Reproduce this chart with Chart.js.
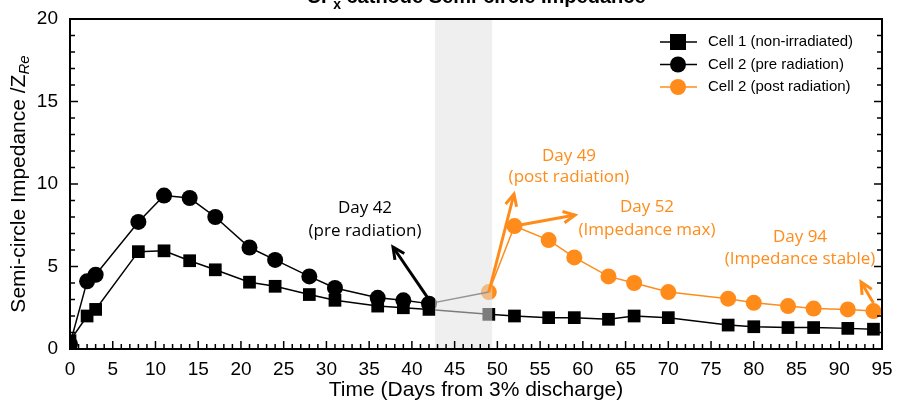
<!DOCTYPE html>
<html><head><meta charset="utf-8">
<script src="https://cdn.jsdelivr.net/npm/chart.js@4"></script>
<style>body{margin:0;background:#fff}#w{width:903px;height:403px}</style>
</head><body><div id="w"><canvas id="c"></canvas></div>
<script>
const cell1Days=[0,2,3,8,11,14,17,21,24,28,31,36,39,42,49,52,56,59,63,66,70,77,80,84,87,91,94];
const cell1Vals=[0.5,2.0,2.4,5.9,5.95,5.35,4.8,4.05,3.8,3.3,2.95,2.6,2.5,2.4,2.1,2.0,1.9,1.9,1.8,2.0,1.9,1.45,1.35,1.3,1.3,1.25,1.2];
const preDays=[0,2,3,8,11,14,17,21,24,28,31,36,39,42];
const preVals=[0.3,4.1,4.5,7.7,9.3,9.15,8.0,6.15,5.4,4.4,3.7,3.1,2.95,2.75];
const postDays=[49,52,56,59,63,66,70,77,80,84,87,91,94];
const postVals=[3.45,7.45,6.6,5.55,4.4,4.0,3.45,3.05,2.8,2.6,2.45,2.4,2.3];
const xTicks=[0,5,10,15,20,25,30,35,40,45,50,55,60,65,70,75,80,85,90,95];
const yTicks=[0,5,10,15,20];
const ORANGE='#ff8c1a';
const pts=(d,v)=>d.map((x,i)=>({x,y:v[i]}));

const extras={id:'extras',
 afterDatasetsDraw(ch){
  const c=ch.ctx,X=ch.scales.x,Y=ch.scales.y,a=ch.chartArea;
  c.save();c.fillStyle='rgba(225,225,225,0.55)';
  c.fillRect(X.getPixelForValue(42.7),a.top,X.getPixelForValue(49.4)-X.getPixelForValue(42.7),a.bottom-a.top);
  c.strokeStyle='#000';c.lineWidth=2;c.strokeRect(a.left,a.top,a.right-a.left,a.bottom-a.top);
  c.lineWidth=1.5;
  for(let d=0;d<=95;d++){const x=X.getPixelForValue(d);const L=d%5===0?8:5;
   c.beginPath();c.moveTo(x,a.bottom);c.lineTo(x,a.bottom-L);c.stroke();}
  for(let v=0;v<=20;v++){const y=Y.getPixelForValue(v);const L=v%5===0?8:5;
   c.beginPath();c.moveTo(a.left,y);c.lineTo(a.left+L,y);c.stroke();
   c.beginPath();c.moveTo(a.right,y);c.lineTo(a.right-L,y);c.stroke();}
  c.fillStyle='#000';c.font='bold 20px "Liberation Sans"';c.textAlign='left';c.textBaseline='alphabetic';
  const t1='CF',t2='x',t3=' cathode Semi-circle Impedance';
  const w1=c.measureText(t1).width,w3=c.measureText(t3).width;c.font='bold 14px "Liberation Sans"';const w2=c.measureText(t2).width;
  let tx=(a.left+a.right)/2-(w1+w2+w3)/2;
  c.font='bold 20px "Liberation Sans"';c.fillText(t1,tx,3);
  c.font='bold 14px "Liberation Sans"';c.fillText(t2,tx+w1,9);
  c.font='bold 20px "Liberation Sans"';c.fillText(t3,tx+w1+w2,3);
  const arrow=(x1,y1,x2,y2,col)=>{c.strokeStyle=col;c.lineWidth=3;c.beginPath();c.moveTo(x1,y1);c.lineTo(x2,y2);c.stroke();
   const ang=Math.atan2(y2-y1,x2-x1),h=13;c.beginPath();
   c.moveTo(x2-h*Math.cos(ang-0.45),y2-h*Math.sin(ang-0.45));c.lineTo(x2,y2);c.lineTo(x2-h*Math.cos(ang+0.45),y2-h*Math.sin(ang+0.45));c.stroke();};
  const txt=(s,x,y,col)=>{c.fillStyle=col;c.font='17px "Open Sans"';c.textAlign='center';c.textBaseline='middle';c.fillText(s,x,y);};
  const px=(d,v)=>[X.getPixelForValue(d),Y.getPixelForValue(v)];
  txt('Day 42',365,208,'#000');txt('(pre radiation)',365,231,'#000');
  let p=px(42,2.75);arrow(p[0],p[1]-4,393,247,'#000');
  txt('Day 49',569,156,ORANGE);txt('(post radiation)',569,177,ORANGE);
  p=px(49,3.45);arrow(p[0],p[1],514,194,ORANGE);
  p=px(52,7.45);arrow(p[0],p[1],575,215,ORANGE);
  txt('Day 52',647,207,ORANGE);txt('(Impedance max)',647,230,ORANGE);
  txt('Day 94',800,237,ORANGE);txt('(Impedance stable)',800,259,ORANGE);
  p=px(94,2.3);arrow(p[0],p[1]-8,861,282,ORANGE);
  c.fillStyle='#000';c.translate(19,(a.top+a.bottom)/2);c.rotate(-Math.PI/2);
  c.font='21px "Liberation Sans"';c.textBaseline='middle';
  const s1='Semi-circle Impedance /Z',s2='Re';const ws1=c.measureText(s1).width;c.font='italic 15px "Liberation Sans"';const ws2=c.measureText(s2).width;
  const sx=-(ws1+ws2)/2;c.font='21px "Liberation Sans"';c.textAlign='left';c.fillText(s1,sx,0);
  c.font='italic 15px "Liberation Sans"';c.fillText(s2,sx+ws1,6);
  c.setTransform(ch.currentDevicePixelRatio,0,0,ch.currentDevicePixelRatio,0,0);
  const items=[['Cell 1 (non-irradiated)','#000','sq'],['Cell 2 (pre radiation)','#000','ci'],['Cell 2 (post radiation)',ORANGE,'ci']];
  items.forEach((it,i)=>{const y=42+i*22.5;c.strokeStyle=it[1];c.fillStyle=it[1];c.lineWidth=1.5;
   c.beginPath();c.moveTo(660,y);c.lineTo(697,y);c.stroke();
   if(it[2]==='sq')c.fillRect(670,y-8,16,16);else{c.beginPath();c.arc(678,y,8,0,7);c.fill();}
   c.fillStyle='#000';c.font='15px "Liberation Sans"';c.textAlign='left';c.textBaseline='middle';c.fillText(it[0],708,y);});
  c.restore();
 }};

new Chart(document.getElementById('c'),{type:'scatter',
 data:{datasets:[
  {data:pts(cell1Days,cell1Vals),showLine:true,borderColor:'#000',borderWidth:1.5,backgroundColor:'#000',pointStyle:'rect',pointRadius:9,pointBorderWidth:0},
  {data:pts(preDays,preVals),showLine:true,borderColor:'#000',borderWidth:1.5,backgroundColor:'#000',pointStyle:'circle',pointRadius:8,pointBorderWidth:0},
  {data:[{x:preDays[preDays.length-1],y:preVals[preVals.length-1]},{x:postDays[0],y:postVals[0]}],showLine:true,borderColor:'#333',borderWidth:1.5,pointRadius:0},
  {data:pts(postDays,postVals),showLine:true,borderColor:ORANGE,borderWidth:1.5,backgroundColor:ORANGE,pointStyle:'circle',pointRadius:8,pointBorderWidth:0}
 ]},
 plugins:[extras],
 options:{responsive:true,maintainAspectRatio:false,animation:false,
  layout:{padding:{left:0,right:21,top:19,bottom:0}},
  plugins:{legend:{display:false},tooltip:{enabled:false}},
  scales:{
   x:{type:'linear',min:0,max:95,afterBuildTicks:s=>{s.ticks=xTicks.map(v=>({value:v}))},
    afterFit:s=>{s.height=54},
    grid:{display:false},border:{display:false},
    ticks:{color:'#000',font:{size:19,family:'Liberation Sans'},padding:1,maxRotation:0},
    title:{display:true,text:'Time (Days from 3% discharge)',color:'#000',font:{size:21,family:'Liberation Sans'},padding:{top:0,bottom:0}}},
   y:{min:0,max:20,afterBuildTicks:s=>{s.ticks=yTicks.map(v=>({value:v}))},
    afterFit:s=>{s.width=70},
    grid:{display:false},border:{display:false},
    ticks:{color:'#000',font:{size:19,family:'Liberation Sans'},padding:4}}
  }}});
</script></body></html>
